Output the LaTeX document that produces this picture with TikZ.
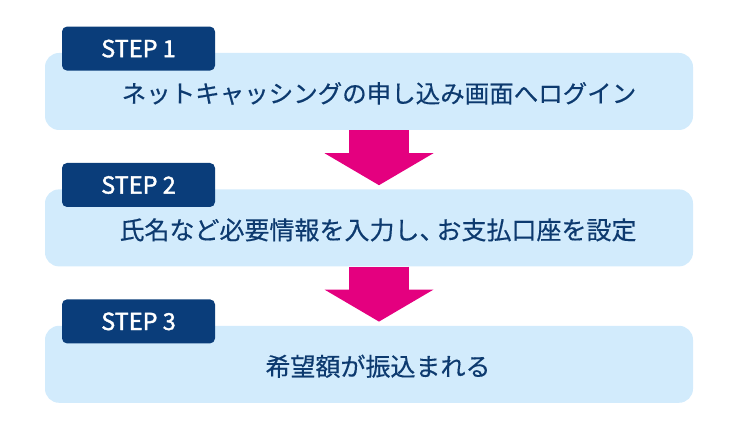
\documentclass[tikz,border=0pt]{standalone}
\usepackage{fontspec}
\usepackage{xcolor}
\usepackage{tikz}
\usetikzlibrary{arrows.meta, positioning, calc}

\newfontfamily\jpfont{Noto Sans CJK JP}[FakeBold=0.4]
\newfontfamily\tabfont{Noto Sans CJK JP}[FakeBold=1.5]
\definecolor{boxblue}{HTML}{D2EBFC}
\definecolor{tabnavy}{HTML}{0A3D7A}
\definecolor{textnavy}{HTML}{0D3A6F}
\definecolor{arrowpink}{HTML}{E4007F}

\begin{document}
\begin{tikzpicture}[
    x=1pt, y=1pt,
    node distance=59pt,
    stepbox/.style={rectangle, fill=boxblue, rounded corners=14pt, minimum width=648pt, minimum height=77pt, inner sep=0pt},
    steptab/.style={rectangle, fill=tabnavy, rounded corners=5pt, minimum width=153pt, minimum height=44pt, inner sep=0pt, text=white, font=\tabfont\fontsize{23.5}{23.5}\selectfont},
    steptext/.style={inner sep=0pt, text=textnavy, font=\jpfont\fontsize{24.5}{24.5}\selectfont},
    flow/.style={draw=arrowpink, line width=60pt, -{Triangle[width=109pt, length=32pt, line width=0pt, fill=arrowpink]}}
]
    \useasboundingbox (0,0) rectangle (740,430);

    % Steps
    \node (box1) [stepbox] at (369,338.5) {};
    \node (box2) [stepbox, below=of box1] {};
    \node (box3) [stepbox, below=of box2] {};

    % Tabs
    \node (tab1) [steptab, anchor=south west] at ([xshift=17pt, yshift=-18pt]box1.north west) {STEP 1};
    \node (tab2) [steptab, anchor=south west] at ([xshift=17pt, yshift=-18pt]box2.north west) {STEP 2};
    \node (tab3) [steptab, anchor=south west] at ([xshift=17pt, yshift=-18pt]box3.north west) {STEP 3};

    % Texts
    \node (text1) [steptext] at ([xshift=10pt, yshift=-2pt]box1.center) {ネットキャッシングの申し込み画面へログイン};
    \node (text2) [steptext, font=\jpfont\fontsize{25}{25}\selectfont] at ([xshift=9pt, yshift=-2pt]box2.center) {氏名など必要情報を入力し、\kern-8pt お支払口座を設定};
    \node (text3) [steptext, font=\jpfont\fontsize{25}{25}\selectfont] at ([xshift=9pt, yshift=-2pt]box3.center) {希望額が振込まれる};

    % Connectors
    \draw [flow] ([xshift=10pt]box1.south) -- ([xshift=10pt, yshift=4pt]box2.north);
    \draw [flow] ([xshift=10pt]box2.south) -- ([xshift=10pt, yshift=4pt]box3.north);

\end{tikzpicture}
\end{document}
